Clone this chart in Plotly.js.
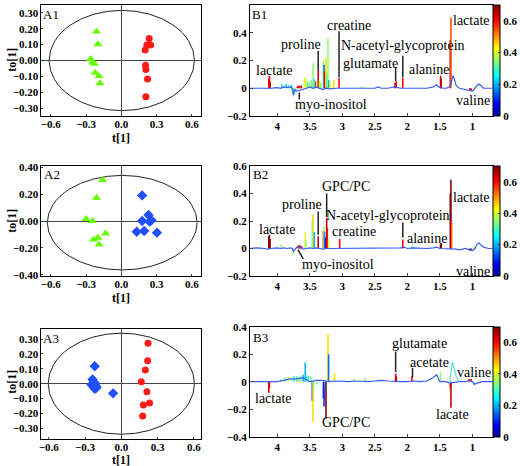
<!DOCTYPE html>
<html><head><meta charset="utf-8">
<script src="https://cdn.plot.ly/plotly-3.0.1.min.js"></script>
<style>html,body{margin:0;padding:0;background:#fff}#chart{width:520px;height:466px}</style>
</head><body><div id="chart"></div>
<script>
// ---------- A panels: OPLS-DA scores ----------
const a1GreenT  = [-0.211,-0.200,-0.260,-0.243,-0.229,-0.223,-0.189,-0.183];
const a1GreenTo = [0.183,0.102,0.009,-0.011,-0.021,-0.077,-0.098,-0.143];
const a1RedT    = [0.237,0.217,0.249,0.203,0.206,0.209,0.223,0.209];
const a1RedTo   = [0.138,0.098,0.098,0.066,-0.030,-0.057,-0.117,-0.228];

const a2GreenT  = [-0.160,-0.211,-0.300,-0.246,-0.134,-0.200,-0.237,-0.189];
const a2GreenTo = [0.306,0.174,0.015,0.000,-0.094,-0.124,-0.137,-0.176];
const a2BlueT   = [0.177,0.231,0.177,0.240,0.257,0.131,0.194,0.303];
const a2BlueTo  = [0.191,0.045,0.000,-0.005,0.005,-0.080,-0.075,-0.087];

const a3BlueT   = [-0.220,-0.238,-0.247,-0.214,-0.206,-0.220,-0.206,-0.068];
const a3BlueTo  = [0.117,0.029,-0.007,0.000,-0.020,-0.034,-0.027,-0.065];
const a3RedT    = [0.220,0.217,0.198,0.165,0.211,0.233,0.182,0.176];
const a3RedTo   = [0.272,0.155,0.092,0.013,-0.054,-0.130,-0.144,-0.218];

// Hotelling ellipses [t min, t max, to min, to max]
const ellipseA1 = [-0.615, 0.622, -0.316, 0.316];
const ellipseA2 = [-0.630, 0.645, -0.365, 0.340];
const ellipseA3 = [-0.604, 0.604, -0.340, 0.340];

const xTicksA = [-0.6,-0.3,0.0,0.3,0.6];

// ---------- B panels: loadings spectra (ppm, coefficient) ----------
const b1BasePpm = [4.42,4.3,4.2,4.15,4.1,4.0,3.95,3.9,3.85,3.8,3.77,3.75,3.73,3.7,3.65,3.6,3.55,3.5,3.45,3.4,3.35,3.3,3.25,3.2,3.1,3.0,2.9,2.8,2.7,2.6,2.5,2.45,2.4,2.3,2.2,2.1,2.0,1.9,1.8,1.7,1.6,1.55,1.52,1.45,1.4,1.35,1.32,1.30,1.28,1.25,1.2,1.1,1.05,1.0,0.96,0.93,0.9,0.87,0.83,0.75,0.69];
const b1BaseVal = [0,0,-0.005,0,0,0.005,0,0.01,0.005,0.01,0,-0.05,-0.01,-0.02,-0.015,-0.01,0,0.01,0,0.01,0,-0.01,0,-0.005,0,0,0,-0.005,0,0,0,0.01,0,0,0.01,0,0,0.005,0,0,0.01,0.025,0.01,0,0,0.01,0.05,0.09,0.07,0.02,0,-0.01,-0.02,-0.02,0,0.02,0.03,0.02,0,0,0];
const b1PeakPpm = [4.13,4.12,4.11,3.93,3.90,3.86,3.82,3.78,3.75,3.72,3.69,3.67,3.65,3.63,3.58,3.56,3.53,3.50,3.47,3.45,3.43,3.41,3.37,3.35,3.33,3.29,3.28,3.27,3.25,3.24,3.22,3.21,3.19,3.13,3.05,2.72,2.68,2.19,2.17,2.07,1.49,1.48,1.34,1.33,1.04,1.02,0.97];
const b1PeakVal = [0.07,0.09,0.05,0.03,0.02,0.03,0.025,0.02,-0.05,-0.03,0.015,0.02,0.015,0.02,0.07,0.08,0.04,0.05,0.06,0.18,0.07,0.05,0.13,0.06,0.04,0.20,0.17,0.12,0.22,0.10,0.36,0.06,0.05,0.06,0.075,0.01,0.01,0.04,0.05,0.075,0.09,0.07,0.35,0.51,-0.02,-0.015,0.01];
const b1PeakCorr = [0.62,0.6,0.65,0.25,0.35,0.2,0.3,0.15,0.25,0.35,0.62,0.6,0.65,0.6,0.42,0.38,0.3,0.35,0.32,0.35,0.25,0.55,0.65,0.4,0.35,0.35,0.15,0.6,0.45,0.3,0.35,0.2,0.45,0.45,0.6,0.35,0.4,0.65,0.62,0.6,0.62,0.65,0.65,0.55,0.65,0.62,0.35];

const b2BasePpm = [4.42,4.3,4.2,4.15,4.1,4.0,3.95,3.9,3.85,3.8,3.77,3.75,3.73,3.7,3.65,3.6,3.55,3.5,3.45,3.4,3.35,3.3,3.25,3.2,3.1,3.0,2.9,2.8,2.7,2.6,2.5,2.4,2.3,2.2,2.1,2.05,2.0,1.9,1.8,1.7,1.6,1.55,1.5,1.45,1.4,1.35,1.3,1.25,1.2,1.1,1.05,1.0,0.96,0.93,0.9,0.87,0.83,0.75,0.69];
const b2BaseVal = [0,0.005,0,-0.005,0,0.005,0,0.005,0,0.005,0,-0.02,-0.01,0.01,0.01,-0.005,0,0.005,0,0.005,0,-0.005,0,0,0,0,0.005,0,0,0.005,0,0,0.005,0,0.005,0.01,0,0.005,0,0,0.005,0.01,0,0,0,0,0,-0.005,-0.01,0,-0.01,-0.015,0,0.03,0.04,0.03,0.01,0,0];
const b2PeakPpm = [4.13,4.12,4.11,3.94,3.75,3.68,3.66,3.64,3.62,3.57,3.56,3.46,3.45,3.43,3.37,3.29,3.28,3.27,3.26,3.24,3.23,3.21,3.04,2.07,1.93,1.49,1.48,1.34,1.33,1.32,1.04,1.02,0.97];
const b2PeakVal = [0.09,0.10,0.07,0.03,-0.04,0.02,0.025,0.02,0.015,0.12,0.06,0.20,0.25,0.12,0.09,0.13,0.16,0.12,0.08,0.22,0.15,0.06,0.07,0.065,0.02,0.035,0.04,0.40,0.50,0.20,-0.015,-0.01,0.015];
const b2PeakCorr = [0.7,0.7,0.68,0.35,0.35,0.62,0.6,0.62,0.6,0.4,0.35,0.3,0.45,0.2,0.65,0.6,0.35,0.2,0.1,0.65,0.6,0.4,0.6,0.6,0.3,0.68,0.7,0.7,0.7,0.55,0.7,0.68,0.35];

const b3BasePpm = [4.42,4.3,4.2,4.1,4.0,3.9,3.8,3.7,3.6,3.5,3.4,3.3,3.2,3.1,3.0,2.9,2.8,2.7,2.6,2.5,2.4,2.3,2.2,2.1,2.0,1.9,1.8,1.7,1.6,1.55,1.5,1.45,1.4,1.35,1.2,1.1,1.05,1.0,0.97,0.93,0.85,0.75,0.69];
const b3BaseVal = [0,0,-0.005,0,0,0.01,0.02,0.02,0.03,0,0.01,0.01,0,0.005,0,0,0.005,0,0,0.005,0.01,0.005,0,0,0,0.005,0,0.005,0.03,0.05,0,0,0,-0.01,0,0,0.01,0,-0.02,-0.01,0,0,0];
const b3HumpPpm = [1.35,1.33,1.32,1.31,1.30,1.28,1.25,1.22,1.2];
const b3HumpVal = [-0.01,0.06,0.12,0.14,0.13,0.09,0.04,0.01,0];
const b3PeakPpm = [4.13,4.12,3.95,3.88,3.83,3.78,3.74,3.70,3.67,3.64,3.60,3.57,3.55,3.52,3.48,3.46,3.45,3.44,3.39,3.29,3.28,3.26,3.25,3.22,3.21,3.19,3.12,2.82,2.65,2.45,2.18,2.17,1.93,1.49,1.34,1.33,1.05,1.02,0.97];
const b3PeakVal = [-0.08,-0.05,0.02,0.03,0.04,0.03,0.04,0.04,0.03,0.04,0.05,0.14,0.05,0.04,0.04,-0.14,-0.29,-0.06,-0.02,-0.12,-0.18,-0.05,-0.27,0.35,0.20,0.03,0.06,0.02,0.03,0.01,0.06,0.04,0.04,0.07,-0.05,-0.19,0.02,0.02,-0.02];
const b3PeakCorr = [0.65,0.62,0.35,0.3,0.4,0.35,0.25,0.3,0.45,0.3,0.2,0.2,0.3,0.25,0.35,0.1,0.45,0.35,0.3,0.1,0.1,0.25,0.7,0.45,0.15,0.4,0.45,0.35,0.35,0.3,0.62,0.65,0.6,0.35,0.6,0.65,0.62,0.6,0.35];

const xTicksB = [4,3.5,3,2.5,2,1.5,1];
const corrTicks = [0,0.2,0.4,0.6];

// metabolite labels: [text, ppm, value]
const b1Labels = [["lactate",4.04,0.13],["proline",3.64,0.315],["creatine",2.90,0.45],["N-acetyl-glycoprotein",2.07,0.31],["glutamate",2.565,0.18],["alanine",1.66,0.135],["lactate",1.015,0.485],["myo-inositol",3.18,-0.115],["valine",0.994,-0.09]];
const b2Labels = [["lactate",4.0,0.14],["proline",3.62,0.32],["GPC/PC",2.95,0.45],["N-acetyl-glycoprotein",2.30,0.24],["creatine",2.82,0.125],["alanine",1.70,0.07],["lactate",1.01,0.37],["myo-inositol",3.06,-0.114],["valine",0.99,-0.165]];
const b3Labels = [["lactate",4.05,-0.12],["GPC/PC",2.95,-0.30],["glutamate",1.81,0.28],["acetate",1.66,0.143],["valine",0.98,0.07],["lacate",1.31,-0.235]];
// pointer lines: [ppm0, value0, ppm1, value1]
const b1Pointers = [[3.37,0.27,3.37,0.13],[3.05,0.41,3.05,0.08],[2.07,0.235,2.07,0.08],[2.18,0.15,2.18,0.05],[3.66,-0.03,3.66,-0.08]];
const b2Pointers = [[3.37,0.27,3.37,0.10],[3.24,0.40,3.24,0.23],[2.07,0.19,2.07,0.08],[3.68,-0.01,3.60,-0.075]];
const b3Pointers = [[2.18,0.22,2.18,0.07],[1.92,0.10,1.92,0.03]];

// ---------- helpers ----------
const W = 520, H = 466;
const serif = "Liberation Serif, Times New Roman, serif";
const jet = [[0,'rgb(0,0,143)'],[0.11,'rgb(0,0,255)'],[0.36,'rgb(0,255,255)'],[0.61,'rgb(255,255,0)'],[0.86,'rgb(255,0,0)'],[1,'rgb(128,0,0)']];
const GREEN = '#66ff00', RED = '#ff1a1a', BLUE = '#1f4fff', LINEBLUE = '#3a5cf0';

const domA = [42/W, 204/W];
const domB = [253.3/W, 499.3/W];
const rows = {
  A1:[1-116/H, 1-5/H], B1:[1-116/H, 1-5/H],
  A2:[1-276/H, 1-166/H], B2:[1-276/H, 1-166/H],
  A3:[1-438.7/H, 1-328.7/H], B3:[1-436.7/H, 1-326.7/H]
};

function scoreTrace(xs, ys, color, symbol, size, ax){
  return {type:'scatter', mode:'markers', x:xs, y:ys, xaxis:ax[0], yaxis:ax[1],
    marker:{color:color, symbol:symbol, size:size, line:{width:0}}, showlegend:false, hoverinfo:'x+y'};
}
function baseTrace(xs, ys, ax, color){
  return {type:'scatter', mode:'lines', x:xs, y:ys, xaxis:ax[0], yaxis:ax[1],
    line:{color:color||LINEBLUE, width:1.2}, showlegend:false};
}
function peakTrace(xs, ys, cs, ax, dom){
  return {type:'bar', x:xs, y:ys, xaxis:ax[0], yaxis:ax[1], width:0.024, showlegend:false,
    marker:{color:cs, colorscale:jet, cmin:0, cmax:0.7, line:{width:0}, showscale:true,
      colorbar:{x:domB[1], xanchor:'left', xpad:0, ypad:0, thickness:7, thicknessmode:'pixels',
        len:dom[1]-dom[0], lenmode:'fraction', y:(dom[0]+dom[1])/2, yanchor:'middle',
        outlinewidth:1, outlinecolor:'#000', tickvals:corrTicks, ticks:'inside', ticklen:2,
        tickfont:{family:serif, size:11, weight:'bold', color:'#000'}}}};
}

const tickFont = {family:serif, size:11, weight:'bold', color:'#000'};
function axA(dom, range, tickvals, fmt, isX){
  const a = {domain:dom, range:range, tickvals:tickvals, tickformat:fmt, showgrid:false,
    zeroline:true, zerolinecolor:'#444', zerolinewidth:1, showline:true, mirror:true,
    linecolor:'#000', linewidth:1, ticks:'inside', ticklen:2, tickfont:tickFont, fixedrange:true};
  if (isX) a.ticklabelstandoff = -2;
  return a;
}
function axB(dom, range, tickvals){
  return {domain:dom, range:range, tickvals:tickvals, showgrid:false, zeroline:false,
    showline:true, mirror:true, linecolor:'#000', linewidth:1, ticks:'inside', ticklen:3,
    tickfont:tickFont, fixedrange:true};
}

const data = [
  scoreTrace(a1GreenT, a1GreenTo, GREEN, 'triangle-up', 8, ['x','y']),
  scoreTrace(a1RedT, a1RedTo, RED, 'circle', 7, ['x','y']),
  peakTrace(b1PeakPpm, b1PeakVal, b1PeakCorr, ['x2','y2'], rows.B1),
  baseTrace(b1BasePpm, b1BaseVal, ['x2','y2']),
  scoreTrace(a2GreenT, a2GreenTo, GREEN, 'triangle-up', 8, ['x3','y3']),
  scoreTrace(a2BlueT, a2BlueTo, BLUE, 'diamond', 8, ['x3','y3']),
  peakTrace(b2PeakPpm, b2PeakVal, b2PeakCorr, ['x4','y4'], rows.B2),
  baseTrace(b2BasePpm, b2BaseVal, ['x4','y4']),
  scoreTrace(a3BlueT, a3BlueTo, BLUE, 'diamond', 8, ['x5','y5']),
  scoreTrace(a3RedT, a3RedTo, RED, 'circle', 7, ['x5','y5']),
  peakTrace(b3PeakPpm, b3PeakVal, b3PeakCorr, ['x6','y6'], rows.B3),
  baseTrace(b3BasePpm, b3BaseVal, ['x6','y6']),
  baseTrace(b3HumpPpm, b3HumpVal, ['x6','y6'], '#55e0d0')
];

const shapes = [];
[[ellipseA1,'x','y'],[ellipseA2,'x3','y3'],[ellipseA3,'x5','y5']].forEach(([e,xr,yr])=>{
  shapes.push({type:'circle', xref:xr, yref:yr, x0:e[0], x1:e[1], y0:e[2], y1:e[3],
    line:{color:'#222', width:1}, layer:'below'});
});
[[b1Pointers,'x2','y2'],[b2Pointers,'x4','y4'],[b3Pointers,'x6','y6']].forEach(([ps,xr,yr])=>{
  ps.forEach(p=>shapes.push({type:'line', xref:xr, yref:yr, x0:p[0], y0:p[1], x1:p[2], y1:p[3],
    line:{color:'#222', width:1.5}}));
});

const annotations = [];
const labFont = {family:serif, size:14, color:'#000'};
[[b1Labels,'x2','y2'],[b2Labels,'x4','y4'],[b3Labels,'x6','y6']].forEach(([ls,xr,yr])=>{
  ls.forEach(l=>annotations.push({text:l[0], x:l[1], y:l[2], xref:xr, yref:yr,
    xanchor:'center', yanchor:'middle', showarrow:false, font:labFont}));
});
// panel letters and axis titles (pixel positions)
function paperAnn(text, px, py, opts){
  return Object.assign({text:text, x:px/W, y:1-py/H, xref:'paper', yref:'paper',
    showarrow:false, xanchor:'center', yanchor:'middle', font:{family:serif, size:13, color:'#000'}}, opts||{});
}
annotations.push(
  paperAnn('A1',52,14.5), paperAnn('A2',53,175), paperAnn('A3',52,338),
  paperAnn('B1',263.5,14.5), paperAnn('B2',264,175), paperAnn('B3',264,337)
);
const titleFont = {family:serif, size:12, weight:'bold', color:'#000'};
[[60,138],[221,298],[382,459.5]].forEach(([cy,ty])=>{
  annotations.push(paperAnn('to[1]',12,cy,{textangle:-90, font:titleFont}));
  annotations.push(paperAnn('t[1]',123,ty,{font:titleFont}));
});

const layout = {
  width:W, height:H, margin:{l:0,r:0,t:0,b:0}, paper_bgcolor:'#fff', plot_bgcolor:'#fff',
  showlegend:false, barmode:'overlay',
  font:{family:serif, color:'#000'},
  xaxis: axA(domA, [-0.68,0.68], xTicksA, '.1f', true),
  yaxis: axA(rows.A1, [-0.35,0.35], [-0.3,-0.2,-0.1,0,0.1,0.2,0.3], '.2f'),
  xaxis2: axB(domB, [4.42,0.69], xTicksB),
  yaxis2: axB(rows.B1, [-0.2,0.6], [-0.2,0,0.2,0.4,0.6]),
  xaxis3: axA(domA, [-0.68,0.68], xTicksA, '.1f', true),
  yaxis3: axA(rows.A2, [-0.41,0.41], [-0.4,-0.2,0,0.2,0.4], '.2f'),
  xaxis4: axB(domB, [4.42,0.69], xTicksB),
  yaxis4: axB(rows.B2, [-0.2,0.6], [-0.2,0,0.2,0.4,0.6]),
  xaxis5: axA(domA, [-0.66,0.66], xTicksA, '.1f', true),
  yaxis5: axA(rows.A3, [-0.37,0.37], [-0.3,-0.2,-0.1,0,0.1,0.2,0.3], '.2f'),
  xaxis6: axB(domB, [4.42,0.69], xTicksB),
  yaxis6: axB(rows.B3, [-0.4,0.4], [-0.4,-0.2,0,0.2,0.4]),
  shapes: shapes, annotations: annotations
};
['xaxis','xaxis3','xaxis5'].forEach((k,i)=>{ layout[k].anchor = ['y','y3','y5'][i]; });
['yaxis','yaxis3','yaxis5'].forEach((k,i)=>{ layout[k].anchor = ['x','x3','x5'][i]; });
['xaxis2','xaxis4','xaxis6'].forEach((k,i)=>{ layout[k].anchor = ['y2','y4','y6'][i]; });
['yaxis2','yaxis4','yaxis6'].forEach((k,i)=>{ layout[k].anchor = ['x2','x4','x6'][i]; });

Plotly.newPlot('chart', data, layout, {displayModeBar:false, staticPlot:true});
</script></body></html>
